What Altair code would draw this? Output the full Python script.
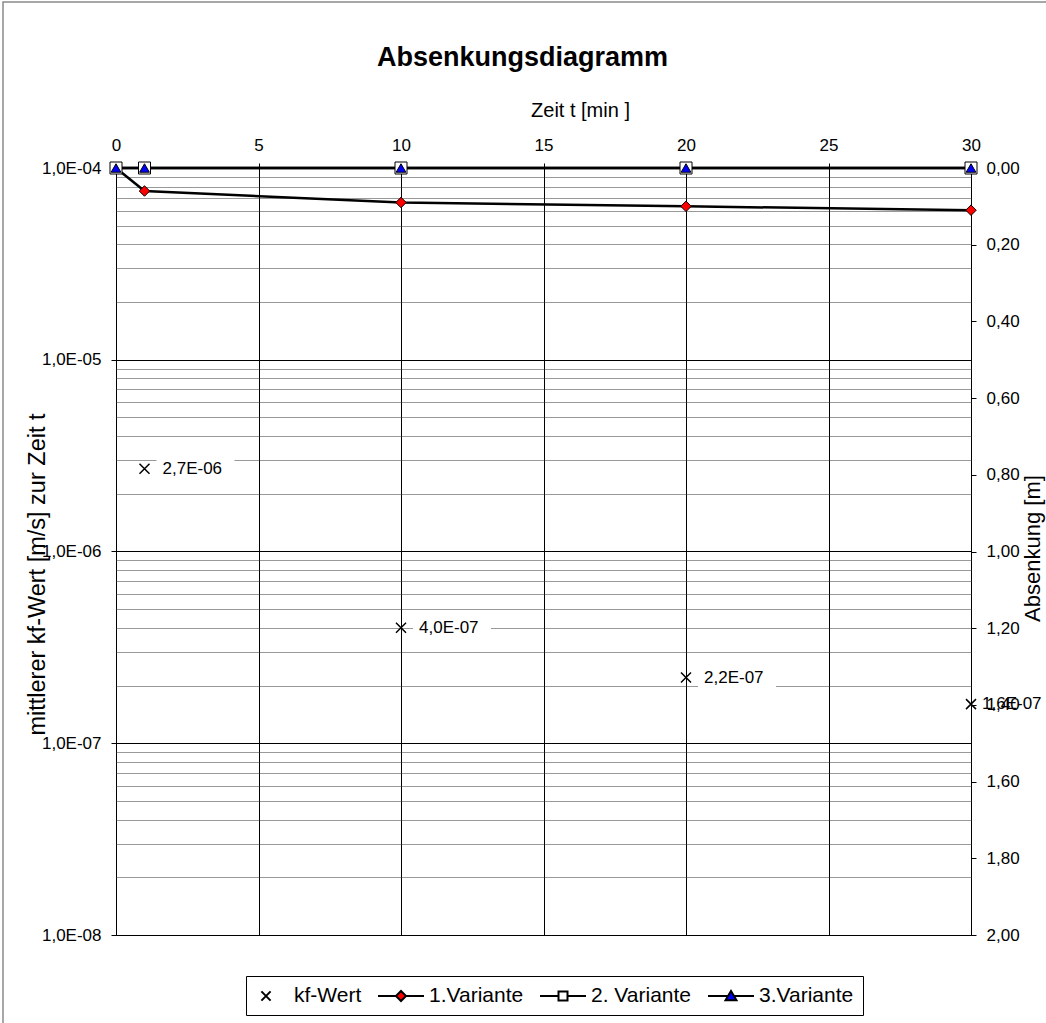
import altair as alt
import pandas as pd

# ---------------- data ----------------
zeit_min = [0, 1, 10, 20, 30]
variante_1 = [0.00, 0.06, 0.09, 0.10, 0.11]
variante_2 = [0.00, 0.00, 0.00, 0.00, 0.00]
variante_3 = [0.00, 0.00, 0.00, 0.00, 0.00]

kf_zeit = [1, 10, 20, 30]
kf_wert = [2.7e-6, 4.0e-7, 2.2e-7, 1.6e-7]
kf_text = ["2,7E-06", "4,0E-07", "2,2E-07", "1,6E-07"]

series_names = ["kf-Wert", "1.Variante", "2. Variante", "3.Variante"]
series_fill = ["black", "red", "white", "blue"]

zeit_ticks = [0, 5, 10, 15, 20, 25, 30]
absenkung_ticks = [0.0, 0.2, 0.4, 0.6, 0.8, 1.0, 1.2, 1.4, 1.6, 1.8, 2.0]
kf_exponents = [-8, -7, -6, -5]
kf_mantissas = [1, 2, 3, 4, 5, 6, 7, 8, 9]
kf_ticks = [m * 10.0 ** e for e in kf_exponents for m in kf_mantissas] + [1e-4]

# ---------------- tables ----------------
kf_df = pd.DataFrame({"t": kf_zeit, "kf": kf_wert, "label": kf_text,
                      "series": series_names[0]})
var_df = pd.concat([
    pd.DataFrame({"t": zeit_min, "abs": variante_1, "series": series_names[1]}),
    pd.DataFrame({"t": zeit_min, "abs": variante_2, "series": series_names[2]}),
    pd.DataFrame({"t": zeit_min, "abs": variante_3, "series": series_names[3]}),
], ignore_index=True)

FONT = "Liberation Sans"
CROSS = "M-1,-1L1,1M-1,1L1,-1"
BOX = "M1.2,-1.2H9V1.2H1.2Z"

# legend symbol paths (line stubs + marker); symbolSize 400 -> 10 px per unit
LEG_KF = "M-0.46,-0.46L0.46,0.46M-0.46,0.46L0.46,-0.46"
LEG_V1 = "M-2.3,0H-0.5M0.5,0H2.3M0,-0.5L0.5,0L0,0.5L-0.5,0Z"
LEG_V2 = "M-2.3,0H-0.45M0.45,0H2.3M-0.45,-0.45H0.45V0.45H-0.45Z"
LEG_V3 = "M-2.3,0H-0.3M0.3,0H2.3M0,-0.5L0.55,0.42H-0.55Z"

legend = alt.Legend(
    title=None, orient="none", legendX=130, legendY=808,
    direction="horizontal", columns=4,
    strokeColor="black", fillColor="white", padding=9,
    labelFontSize=21, labelFont=FONT, labelColor="black", labelOffset=17,
    columnPadding=12, symbolSize=400, symbolStrokeColor="black",
    symbolStrokeWidth=2, symbolOpacity=1,
)

x_enc = alt.X("t:Q",
              scale=alt.Scale(domain=[0, 30], nice=False, zero=False),
              axis=alt.Axis(orient="top", values=zeit_ticks, title="Zeit t [min ]",
                            grid=True, gridColor="black", gridWidth=1,
                            domain=False, ticks=True, tickSize=5, tickColor="black",
                            labelFontSize=17, labelPadding=9, labelFlush=False,
                            labelColor="black", labelFont=FONT,
                            titleFontSize=20, titleFontWeight="normal", titleColor="black",
                            titleFont=FONT, titleX=464, titleY=-52,
                            titleBaseline="alphabetic", titleAlign="center"))

MAJ = "abs(log(datum.value)/LN10 - round(log(datum.value)/LN10)) < 0.001"
y_kf = alt.Y("kf:Q",
             scale=alt.Scale(type="log", domain=[1e-8, 1e-4], nice=False),
             axis=alt.Axis(orient="left", values=kf_ticks,
                           grid=True,
                           gridColor={"condition": {"test": MAJ, "value": "black"}, "value": "#333333"},
                           gridDash={"condition": {"test": MAJ, "value": []}, "value": [1, 1]},
                           gridWidth=1,
                           domain=False, tickSize=5, tickColor="black",
                           tickOpacity={"condition": {"test": MAJ, "value": 1}, "value": 0},
                           labelExpr=f"{MAJ} ? '1,0E-0' + toString(-round(log(datum.value)/LN10)) : ''",
                           labelFontSize=17, labelPadding=10, labelOverlap=False,
                           labelFlush=False, labelColor="black", labelFont=FONT,
                           title="mittlerer kf-Wert [m/s] zur Zeit t",
                           titleFontSize=23.5, titleFontWeight="normal", titleColor="black",
                           titleFont=FONT, titleX=-79, titleY=406, titleAngle=270,
                           titleBaseline="middle", titleAlign="center"))

y_abs = alt.Y("abs:Q",
              scale=alt.Scale(domain=[0, 2], reverse=True, nice=False, zero=True),
              axis=alt.Axis(orient="right", values=absenkung_ticks,
                            labelExpr="replace(format(datum.value, '.2f'), '.', ',')",
                            grid=False, domain=False, tickSize=5, tickColor="black",
                            labelFontSize=17, labelPadding=10, labelFlush=False,
                            labelOverlap=False, labelColor="black", labelFont=FONT,
                            title="Absenkung [m]",
                            titleFontSize=22, titleFontWeight="normal", titleColor="black",
                            titleFont=FONT, titleX=61, titleY=380, titleAngle=270,
                            titleBaseline="middle", titleAlign="center"))

# ---------------- kf layers ----------------
kf_base = alt.Chart(kf_df)
kf_boxes = kf_base.transform_filter("datum.t < 30").mark_point(
    shape=BOX, size=400, filled=True, fill="white", stroke="white", strokeWidth=0,
    opacity=1
).encode(x=x_enc, y=y_kf)
kf_points = kf_base.mark_point(shape=CROSS, size=100, strokeWidth=1.5,
                               stroke="black", fill="black", opacity=1).encode(x=x_enc, y=y_kf)
kf_labels_in = kf_base.transform_filter("datum.t < 30").mark_text(
    align="left", baseline="middle", dx=18, fontSize=17, font=FONT, color="black"
).encode(x=x_enc, y=y_kf, text="label:N")
kf_labels_edge = kf_base.transform_filter("datum.t >= 30").mark_text(
    align="left", baseline="middle", dx=11, fontSize=17, font=FONT, color="black"
).encode(x=x_enc, y=y_kf, text="label:N")
kf_group = alt.layer(kf_boxes, kf_points, kf_labels_in, kf_labels_edge)

# ---------------- variant layers ----------------
var_base = alt.Chart(var_df)

# invisible carrier of the legend (size 0); legend symbols = line + marker
legend_layer = var_base.mark_point(size=0, filled=True).encode(
    x=x_enc, y=y_abs,
    shape=alt.Shape("series:N", scale=alt.Scale(domain=series_names,
                                                range=[LEG_KF, LEG_V1, LEG_V2, LEG_V3]),
                    legend=legend),
    fill=alt.Fill("series:N", scale=alt.Scale(domain=series_names, range=series_fill),
                  legend=legend),
    stroke=alt.Stroke("series:N", scale=alt.Scale(domain=series_names,
                                                  range=["black", "black", "black", "black"]),
                      legend=legend),
)

var_lines = var_base.mark_line(color="black", strokeWidth=2.5).encode(
    x=x_enc, y=y_abs, detail="series:N")


def var_points(name, shape, fill, size):
    return var_base.transform_filter(alt.datum.series == name).mark_point(
        shape=shape, size=size, filled=True, fill=fill, stroke="black",
        strokeWidth=1, opacity=1
    ).encode(x=x_enc, y=y_abs)


var_group = alt.layer(
    legend_layer,
    var_lines,
    var_points(series_names[1], "diamond", series_fill[1], 110),
    var_points(series_names[2], "square", series_fill[2], 144),
    var_points(series_names[3], "triangle-up", series_fill[3], 95),
)

# outer frame of the chart
frame = alt.Chart(pd.DataFrame({"f": [0]})).mark_rect(
    fillOpacity=0, stroke="#8a8a8a", strokeWidth=1.5
).encode(x=alt.value(-113), x2=alt.value(960), y=alt.value(-166), y2=alt.value(900))

chart = alt.layer(kf_group, var_group, frame).resolve_scale(
    y="independent"
).properties(
    width=855, height=767,
    padding={"left": 116, "top": 168, "right": 75, "bottom": 88},
    autosize=alt.AutoSizeParams(type="none"),
    title=alt.TitleParams("Absenkungsdiagramm", fontSize=27, font=FONT,
                          fontWeight="bold", color="black", anchor="middle",
                          frame="group", dx=-21, dy=71, offset=0),
    background="white",
).configure_view(stroke="black", strokeWidth=1)

chart.save("out.html", embed_options={"renderer": "svg", "actions": False})
